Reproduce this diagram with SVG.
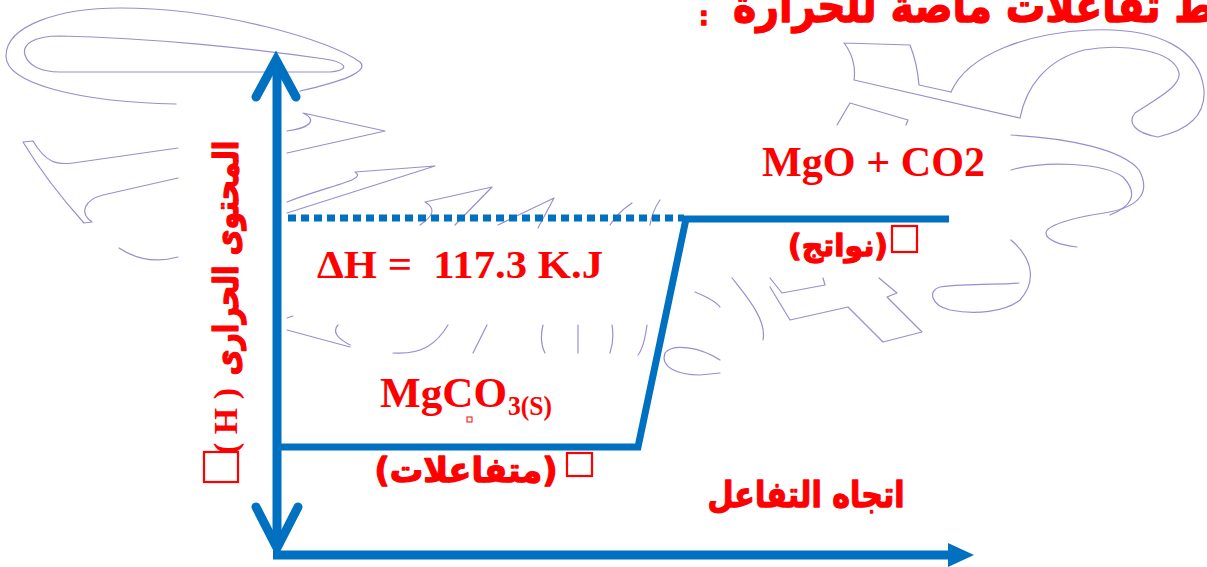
<svg xmlns="http://www.w3.org/2000/svg" width="1207" height="567" viewBox="0 0 1207 567">
<style>
.wm{fill:none;stroke:#9890CC;stroke-width:1.2;stroke-linejoin:round;stroke-linecap:round}
.ax{fill:none;stroke:#0070C0;stroke-width:9}
.lv{fill:none;stroke:#0070C0;stroke-width:7;stroke-linejoin:miter}
.lat{font-family:"Liberation Serif","Times New Roman",serif;font-weight:bold;fill:#FF0000}
.ar{font-family:"DejaVu Sans","Noto Sans",sans-serif;font-weight:bold;fill:#FF0000;stroke:#FF0000;stroke-width:1.3;stroke-linejoin:round}
.box{fill:none;stroke:#FF0000;stroke-width:2.2}
</style>
<rect width="1207" height="567" fill="#FFFFFF"/>
<g id="watermark">
<path class="wm" d="M176 104 C80 102 6 84 6 56 C6 25 60 8 120 8 C220 8 330 40 360 62 C370 72 340 82 300 91"/>
<path class="wm" d="M60 72 L330 72 C350 70 348 63 325 59 C250 48 150 38 60 36 C32 36 22 45 25 55 C28 65 40 72 60 72 Z"/>
<path class="wm" d="M303 113 L385 131 L287 153 M303 113 C318 120 310 128 287 131"/>
<path class="wm" d="M23 142 L33 141 C46 163 57 165 73 163 L178 148 M178 178 L103 195 C84 200 79 213 92 222 L84 223 C57 193 38 167 23 142"/>
<path class="wm" d="M287 202 C330 185 368 180 355 172 L435 166 L287 213"/>
<path class="wm" d="M420 225 C435 215 435 208 425 202 L492 187 L455 225 M498 225 L554 198 L538 228"/>
<path class="wm" d="M119 248 C140 262 160 262 178 257"/>
<path class="wm" d="M287 318 L293 316 M287 330 L350 347 M338 325 C332 332 337 338 350 345"/>
<path class="wm" d="M393 353 C423 355 437 343 448 325 M487 325 L473 353 M543 325 C540 337 542 347 545 353 M578 325 L578 353 M612 325 C614 337 612 347 610 353 M647 325 C645 340 642 350 638 355"/>
<path class="wm" d="M695 292 C707 297 717 303 720 307 M720 360 C700 347 673 343 665 353 C660 367 677 375 700 375 L720 373"/>
<path class="wm" d="M610 225 C620 210 627 207 632 203 M650 225 C652 213 655 207 660 200"/>
<path class="wm" d="M844 43 L910 45 C916 60 918 73 919 85 L951 92 M844 43 C852 53 856 67 854 80 L1020 118"/>
<path class="wm" d="M850 103 L908 120 L906 125 M850 103 C844 113 840 120 837 125"/>
<path class="wm" d="M951 92 C968 53 1030 33 1090 30 C1160 27 1200 50 1204 90 C1206 120 1180 132 1158 137 C1135 133 1127 123 1135 113 C1154 100 1181 87 1179 73 C1174 50 1123 43 1084 50 C1046 60 1026 87 1020 118"/>
<path class="wm" d="M1011 135 C1070 138 1123 150 1139 170 C1150 190 1143 207 1104 213 C1070 218 1046 226 1046 233 C1046 240 1060 245 1077 247"/>
<path class="wm" d="M1011 170 C1046 160 1104 163 1123 177 C1140 195 1130 207 1110 215"/>
<path class="wm" d="M1011 240 C1034 260 1036 282 1020 300 C1005 312 975 315 950 310 C930 305 928 290 940 287 C970 283 1000 285 1019 283"/>
<path class="wm" d="M770 278 L782 293 L825 285 L823 278 M770 287 L790 320 L848 307 L883 342 L922 332 L887 297 L897 293 L879 278"/>
<path class="wm" d="M732 278 C747 297 767 320 763 340"/>
</g>
<g id="connectors">
<line class="ax" x1="277" y1="70" x2="277" y2="540"/>
<polyline class="ax" points="256,97 276,60 296,97" stroke-width="10" stroke-linecap="round" stroke-miterlimit="10"/>
<polyline class="ax" points="256,507 277,548 298,507" stroke-width="10" stroke-linecap="round" stroke-miterlimit="10"/>
<line class="ax" x1="273" y1="555" x2="952" y2="555" stroke-width="8"/>
<polygon points="948,543 974,555 948,567" fill="#0070C0"/>
<polyline class="lv" points="281,447 638,447 686,219 949,219"/>
<line class="lv" x1="288" y1="218" x2="684" y2="218" stroke-dasharray="8 5"/>
</g>
<g id="title">
<text class="ar" x="733" y="22" font-size="46" textLength="575" lengthAdjust="spacingAndGlyphs">مخطط تفاعلات ماصة للحرارة</text>
<text class="ar" x="699" y="25" font-size="24">:</text>
</g>
<g id="y-axis-label">
<text class="ar" transform="translate(238,258) rotate(-90)" text-anchor="middle" font-size="34" textLength="235" lengthAdjust="spacingAndGlyphs">المحتوى الحرارى</text>
<text class="lat" transform="translate(237,421) rotate(-90)" text-anchor="middle" font-size="34" style="white-space:pre">( H )</text>
<rect class="box" x="204" y="452" width="34" height="30"/>
</g>
<g id="delta-h">
<text class="lat" x="317" y="278" font-size="40" textLength="286" lengthAdjust="spacingAndGlyphs" style="white-space:pre">ΔH =  117.3 K.J</text>
</g>
<g id="products">
<text class="lat" x="762" y="176" font-size="42" textLength="223" lengthAdjust="spacingAndGlyphs">MgO + CO2</text>
<text class="ar" x="838" y="256" font-size="30" text-anchor="middle" textLength="100" lengthAdjust="spacingAndGlyphs">(نواتج)</text>
<rect class="box" x="892" y="226" width="25" height="26"/>
</g>
<g id="reactants">
<text class="lat" x="380" y="407" font-size="42" textLength="127" lengthAdjust="spacingAndGlyphs">MgCO</text>
<text class="lat" x="508" y="415" font-size="27" textLength="44" lengthAdjust="spacingAndGlyphs">3(S)</text>
<rect x="467" y="417" width="5" height="5" fill="none" stroke="#FF0000" stroke-width="1"/>
<text class="ar" x="466" y="482" font-size="34" text-anchor="middle" textLength="183" lengthAdjust="spacingAndGlyphs">(متفاعلات)</text>
<rect class="box" x="567" y="453" width="25" height="23"/>
</g>
<g id="x-axis-label">
<text class="ar" x="806" y="507" font-size="36" text-anchor="middle" textLength="197" lengthAdjust="spacingAndGlyphs">اتجاه التفاعل</text>
</g>
</svg>
